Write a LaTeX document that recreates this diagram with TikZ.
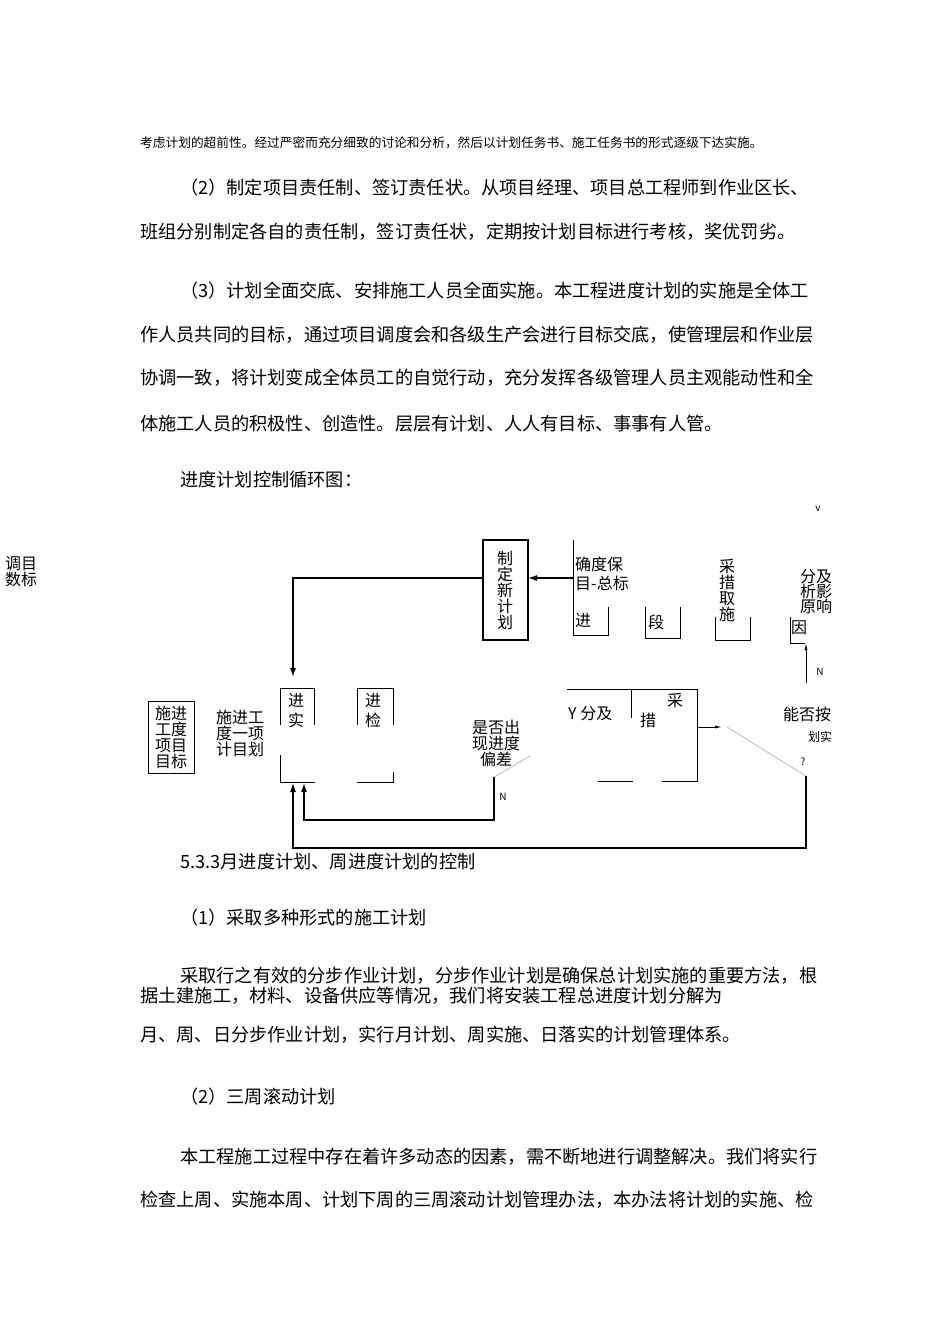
\documentclass[tikz,border=0pt]{standalone}
\usepackage{fontspec}
\setmainfont{Noto Sans CJK SC}
\usetikzlibrary{arrows.meta}
\begin{document}
\begin{tikzpicture}[x=1pt,y=-1pt,
  body/.style={anchor=west,inner sep=0pt,font=\fontsize{18.2}{22}\selectfont},
  small/.style={anchor=west,inner sep=0pt,font=\fontsize{12.7}{15}\selectfont},
  dtext/.style={inner sep=0pt,align=center,font=\fontsize{16}{19}\selectfont},
  ln/.style={line width=1.2pt},
  thin/.style={line width=0.8pt},
  grey/.style={line width=0.7pt,gray!60},
  arr/.style={line width=1.2pt,-{Latex[length=9pt,width=6pt]}}]
\useasboundingbox (0,0) rectangle (950,1344);
\fill[white] (0,0) rectangle (950,1344);
% body text
\node[small] (t0) at (140,143) {考虑计划的超前性。经过严密而充分细致的讨论和分析，然后以计划任务书、施工任务书的形式逐级下达实施。};
\node[body] (t1) at (180,188) {（2）制定项目责任制、签订责任状。从项目经理、项目总工程师到作业区长、};
\node[body] (t2) at (140,232) {班组分别制定各自的责任制，签订责任状，定期按计划目标进行考核，奖优罚劣。};
\node[body] (t3) at (180,291) {（3）计划全面交底、安排施工人员全面实施。本工程进度计划的实施是全体工};
\node[body] (t4) at (140,335) {作人员共同的目标，通过项目调度会和各级生产会进行目标交底，使管理层和作业层};
\node[body] (t5) at (140,378) {协调一致，将计划变成全体员工的自觉行动，充分发挥各级管理人员主观能动性和全};
\node[body] (t6) at (140,424) {体施工人员的积极性、创造性。层层有计划、人人有目标、事事有人管。};
\node[body] (t7) at (180,480) {进度计划控制循环图：};
\node[body] (t8) at (180,862) {5.3.3月进度计划、周进度计划的控制};
\node[body] (t9) at (180,918) {（1）采取多种形式的施工计划};
\node[body] (t10) at (180,976) {采取行之有效的分步作业计划，分步作业计划是确保总计划实施的重要方法，根};
\node[body] (t11) at (140,996) {据土建施工，材料、设备供应等情况，我们将安装工程总进度计划分解为};
\node[body] (t12) at (140,1035) {月、周、日分步作业计划，实行月计划、周实施、日落实的计划管理体系。};
\node[body] (t13) at (180,1097) {（2）三周滚动计划};
\node[body] (t14) at (180,1157) {本工程施工过程中存在着许多动态的因素，需不断地进行调整解决。我们将实行};
\node[body] (t15) at (140,1200) {检查上周、实施本周、计划下周的三周滚动计划管理办法，本办法将计划的实施、检};
% diagram texts
\node[dtext,anchor=north west] (lt) at (5,556) {调目\\[-3pt]数标};
\node[inner sep=0pt,font=\fontsize{10}{12}\selectfont] (vv) at (818,509) {v};
\draw[ln] (483,540) rectangle (528,640);
\node[dtext,font=\fontsize{16}{18}\selectfont] (zd) at (505,590) {制\\[-2pt]定\\[-2pt]新\\[-2pt]计\\[-2pt]划};
\coordinate (zdR) at (528,578);
\coordinate (zdL) at (483,578);
\coordinate (inA) at (573,578);
\draw[arr] (inA) -- (zdR);
\coordinate (c1) at (293,578);
\coordinate (c2) at (293,677);
\draw[arr] (zdL) -- (c1) -- (c2);
% top-right fragments
\draw[thin] (573,540) -- (573,635) -- (608,635) -- (608,607);
\node[dtext,anchor=west] (q1) at (575,564) {确度保};
\node[dtext,anchor=west] (q2) at (575,583) {目-总标};
\node[dtext,anchor=west] (q3) at (575,620) {进};
\draw[thin] (645,607) -- (645,638) -- (680,638) -- (680,607);
\node[dtext] (q4) at (656,622) {段};
\node[dtext] (q5) at (727,590) {采\\[-3pt]措\\[-3pt]取\\[-3pt]施};
\draw[thin] (715,617) -- (715,640) -- (750,640) -- (750,617);
\node[dtext] (q6) at (816,592) {分及\\[-4pt]析影\\[-4pt]原响};
\node[dtext] (q7) at (799,628) {因};
\draw[thin] (790,617) -- (790,643) -- (805,643);
\coordinate (nB) at (806,683);
\coordinate (nT) at (806,643);
\draw[thin,-{Latex[length=7pt,width=3pt]}] (nB) -- (nT);
\node[inner sep=0pt,font=\fontsize{10}{12}\selectfont] (n1) at (820,672) {N};
% bottom row
\draw[thin] (148,701) rectangle (194,773);
\node[dtext] (b1) at (171,737) {施进\\[-3pt]工度\\[-3pt]项目\\[-3pt]目标};
\node[dtext] (b2) at (240,733) {施进工\\[-3pt]度一项\\[-3pt]计目划};
\draw[thin] (280,725) -- (280,688) -- (314,688) -- (314,725);
\draw[thin] (280,755) -- (280,782) -- (315,782);
\node[dtext] (b3) at (296,700) {进};
\node[dtext] (b3b) at (296,720) {实};
\draw[thin] (357,725) -- (357,688) -- (393,688) -- (393,725);
\draw[thin] (357,782) -- (393,782) -- (393,772);
\node[dtext] (b4) at (373,700) {进};
\node[dtext] (b4b) at (373,720) {检};
\node[dtext] (b5) at (496,743) {是否出\\[-3pt]现进度\\[-3pt]偏差};
\draw[grey] (494,777) -- (530,756);
\node[inner sep=0pt,font=\fontsize{10}{12}\selectfont] (n2) at (503,797) {N};
\coordinate (d1) at (494,777);
\coordinate (d2) at (494,820);
\coordinate (d3) at (304,820);
\coordinate (d4) at (304,783);
\draw[arr] (d1) -- (d2) -- (d3) -- (d4);
\draw[thin] (567,689) -- (697,689) -- (697,781) -- (662,781);
\draw[thin] (631,689) -- (631,718);
\draw[thin] (598,781) -- (633,781);
\node[dtext,anchor=west] (b6) at (568,714) {Y 分及};
\node[dtext] (b7) at (675,700) {采};
\node[dtext] (b8) at (648,720) {措};
\coordinate (e1) at (697,727);
\coordinate (e2) at (722,727);
\draw[thin,-{Latex[length=7pt,width=3pt]}] (e1) -- (e2);
\draw[grey] (727,727) -- (806,776);
\node[dtext,anchor=west] (b9) at (783,714) {能否按};
\node[dtext,anchor=west,font=\fontsize{12}{14}\selectfont] (b10) at (808,737) {划实};
\node[inner sep=0pt,font=\fontsize{10}{12}\selectfont] (b11) at (803,762) {?};
\coordinate (f1) at (806,776);
\coordinate (f2) at (806,848);
\coordinate (f3) at (293,848);
\coordinate (f4) at (293,783);
\draw[arr] (f1) -- (f2) -- (f3) -- (f4);
\end{tikzpicture}
\end{document}
